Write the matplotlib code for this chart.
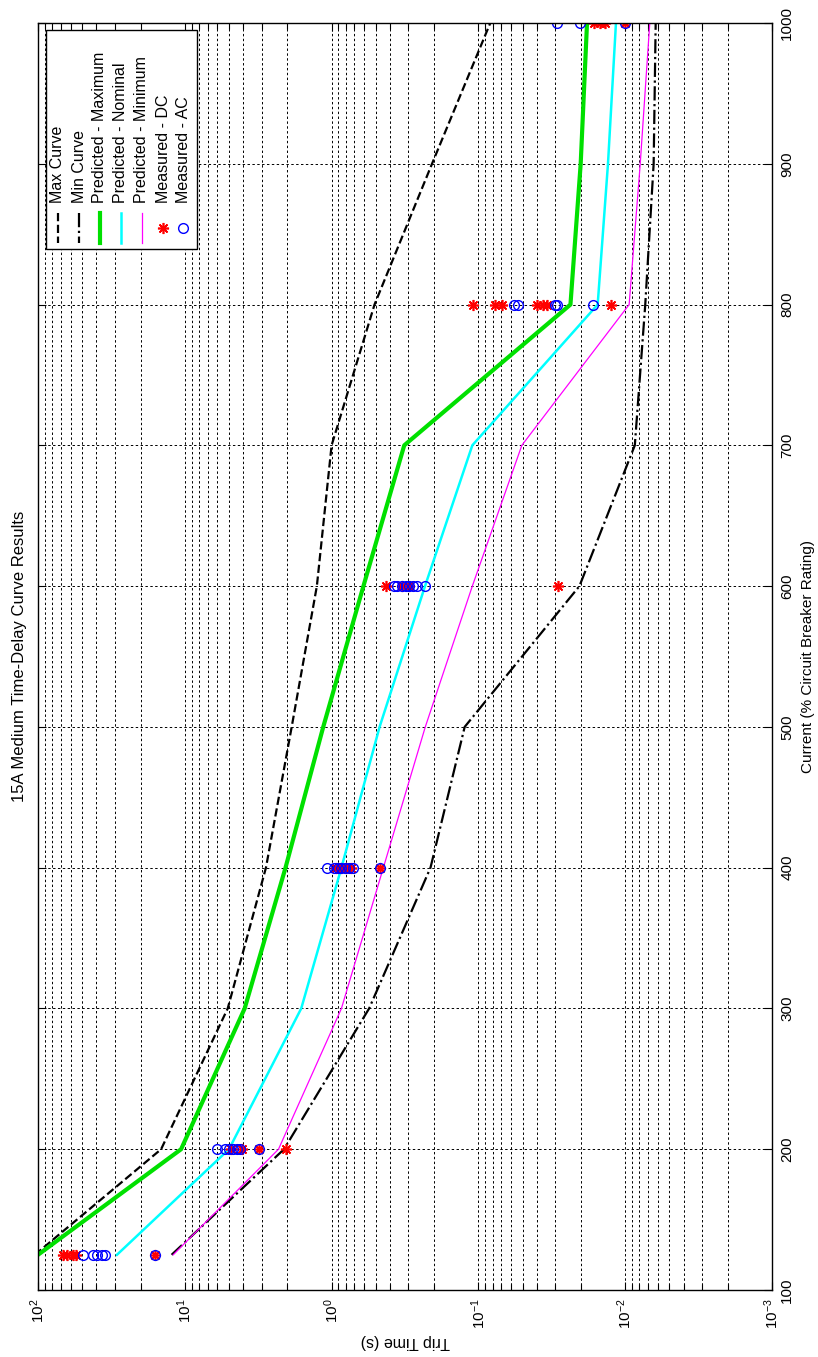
import matplotlib
matplotlib.use("Agg")
import matplotlib.pyplot as plt
from matplotlib.lines import Line2D
from matplotlib.patches import Rectangle
from matplotlib.ticker import LogLocator, NullFormatter, LogFormatterSciNotation

plt.rcParams["font.family"] = ["Liberation Sans", "DejaVu Sans"]

# curve vertices: current (% rating) vs trip time (s)
curve_current = [125, 200, 300, 400, 500, 600, 700, 800, 900, 1000]
max_curve = [105, 14.5, 5.1, 2.8, 1.87, 1.26, 1.0, 0.51, 0.207, 0.083]
min_curve = [12.3, 2.11, 0.555, 0.212, 0.124, 0.0205, 0.0086, 0.0073, 0.0064, 0.0062]
pred_max = [100, 10.6, 3.91, 2.06, 1.14, 0.607, 0.32, 0.0236, 0.0201, 0.0182]
pred_nom = [29.0, 5.0, 1.61, 0.857, 0.471, 0.231, 0.110, 0.0154, 0.0131, 0.01156]
pred_min = [12.0, 2.30, 0.857, 0.444, 0.23, 0.110, 0.0506, 0.0094, 0.0079, 0.0068]

# measured trips
dc_current = [125, 125, 125, 125, 125,
              200, 200, 200, 200,
              400, 400, 400, 400, 400,
              600, 600, 600, 600,
              800, 800, 800, 800, 800, 800, 800,
              1000, 1000, 1000, 1000]
dc_time = [67.6, 63.4, 57.8, 55.1, 16.0,
           4.88, 4.08, 3.13, 2.06,
           0.93, 0.857, 0.80, 0.74, 0.471,
           0.427, 0.334, 0.295, 0.0289,
           0.108, 0.077, 0.0694, 0.0401, 0.0361, 0.0343, 0.0124,
           0.0163, 0.0148, 0.0138, 0.0100]
ac_current = [125, 125, 125, 125, 125, 125,
              200, 200, 200, 200, 200, 200, 200,
              400, 400, 400, 400, 400, 400, 400, 400,
              600, 600, 600, 600, 600, 600, 600, 600,
              800, 800, 800, 800, 800,
              1000, 1000, 1000]
ac_time = [49.3, 42.2, 39.6, 36.6, 35.0, 16.0,
           6.0, 5.35, 5.0, 4.72, 4.42, 4.18, 3.13,
           1.07, 0.969, 0.907, 0.857, 0.81, 0.758, 0.71, 0.471,
           0.378, 0.356, 0.334, 0.313, 0.295, 0.279, 0.261, 0.231,
           0.0572, 0.0534, 0.0301, 0.029, 0.0166,
           0.0292, 0.0203, 0.0100]

current_ticks = [100, 200, 300, 400, 500, 600, 700, 800, 900, 1000]

legend_labels = ["Max Curve", "Min Curve", "Predicted - Maximum", "Predicted - Nominal",
                 "Predicted - Minimum", "Measured - DC", "Measured - AC"]

W, H = 818, 1357
ASTERISK = (8, 2, 0)


def fx(x):
    return x / W


def fy(y):
    return 1 - y / H


fig = plt.figure(figsize=(W / 100, H / 100), dpi=100)
ax = fig.add_axes([fx(38), fy(1290), (772 - 38) / W, (1290 - 23) / H])

# the chart is drawn turned a quarter turn: trip time runs across, current runs up
styles = [
    dict(color="k", ls="--", lw=1.6),
    dict(color="k", ls="-.", lw=1.6),
    dict(color="#00e000", ls="-", lw=3.0),
    dict(color="#00ffff", ls="-", lw=1.8),
    dict(color="#ff00ff", ls="-", lw=0.9),
]
for series, st in zip([max_curve, min_curve, pred_max, pred_nom, pred_min], styles):
    ax.plot(series, curve_current, **st)

ax.plot(dc_time, dc_current, ls="none", marker=ASTERISK, color="red", ms=8, mew=1.2)
ax.plot(ac_time, ac_current, ls="none", marker="o", mfc="none", mec="blue", ms=7, mew=1.0)

ax.set_xscale("log")
ax.set_xlim(100, 1e-3)
ax.set_ylim(100, 1000)
ax.set_yticks(current_ticks)
ax.xaxis.set_major_locator(LogLocator(base=10))
ax.xaxis.set_minor_locator(LogLocator(base=10, subs=range(2, 10)))
ax.xaxis.set_minor_formatter(NullFormatter())
ax.xaxis.set_major_formatter(LogFormatterSciNotation())

grid_ls = (0, (2.5, 2.5))
ax.grid(True, axis="x", which="both", color="k", ls=grid_ls, lw=0.7)
ax.grid(True, axis="y", which="major", color="k", ls=grid_ls, lw=0.7)
ax.set_axisbelow(True)

ax.tick_params(axis="both", which="both", direction="in", top=True, bottom=True,
               left=True, right=True, labelleft=False, labelright=True,
               labelsize=11, colors="k")
ax.tick_params(axis="both", which="major", length=6, width=0.8)
ax.tick_params(axis="x", which="minor", length=4, width=0.8)
ax.tick_params(axis="x", pad=6)
ax.tick_params(axis="y", pad=6)
for lab in ax.get_yticklabels():
    lab.set_rotation(90)
    lab.set_va("center")
    lab.set_ha("left")
for lab in ax.get_xticklabels():
    lab.set_rotation(90)
    lab.set_ha("center")
    lab.set_va("top")
for sp in ax.spines.values():
    sp.set_linewidth(1.0)

fig.text(fx(20), fy(656), "15A Medium Time-Delay Curve Results", rotation=90,
         ha="center", va="center", fontsize=12)
fig.text(fx(808), fy(656), "Current (% Circuit Breaker Rating)", rotation=90,
         ha="center", va="center", fontsize=11)
fig.text(fx(405), fy(1342), "Trip Time (s)", rotation=180,
         ha="center", va="center", fontsize=11.5)

# legend, turned like the rest of the chart
fig.add_artist(Rectangle((fx(46), fy(249)), (197 - 46) / W, (249 - 30) / H,
                         transform=fig.transFigure, facecolor="white",
                         edgecolor="k", lw=1.0, zorder=5))
entry_x = [58, 79, 100, 121, 142, 163, 183]
for i, (xc, label) in enumerate(zip(entry_x, legend_labels)):
    fig.text(fx(xc), fy(203), label, rotation=90, rotation_mode="anchor",
             ha="left", va="center", fontsize=11.5, zorder=6)
    if i < 5:
        fig.add_artist(Line2D([fx(xc), fx(xc)], [fy(213), fy(243)],
                              transform=fig.transFigure, zorder=6, **styles[i]))
    elif i == 5:
        fig.add_artist(Line2D([fx(xc)], [fy(228)], transform=fig.transFigure,
                              ls="none", marker=ASTERISK, color="red", ms=8,
                              mew=1.2, zorder=6))
    else:
        fig.add_artist(Line2D([fx(xc)], [fy(228)], transform=fig.transFigure,
                              ls="none", marker="o", mfc="none", mec="blue",
                              ms=7, mew=1.0, zorder=6))

fig.savefig("out.png", dpi=100, facecolor="white")
